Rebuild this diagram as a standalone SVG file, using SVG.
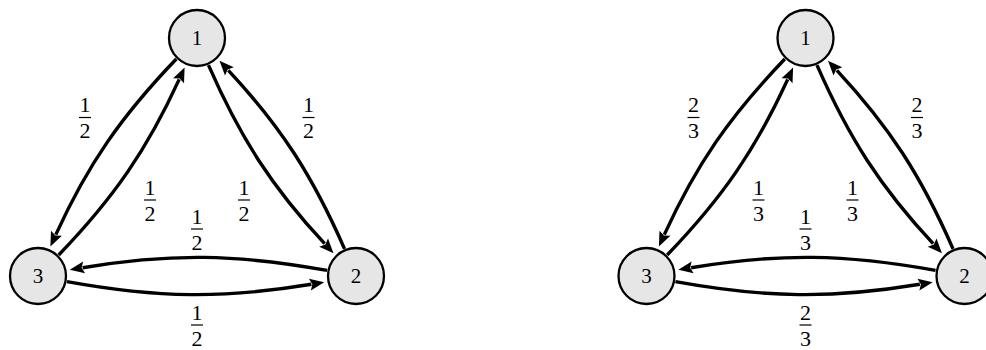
<svg xmlns="http://www.w3.org/2000/svg" width="986" height="350" viewBox="0 0 986 350">
<defs>
<style>
.node circle{fill:#e6e6e6;stroke:#000;stroke-width:2.3}
.nt{font-family:"Liberation Serif","DejaVu Serif",serif;font-size:21px;text-anchor:middle;fill:#000}
.edge{fill:none;stroke:#000;stroke-width:3.4;marker-end:url(#arr)}
.ft{font-family:"Liberation Serif","DejaVu Serif",serif;font-size:22px;text-anchor:middle;fill:#000}
.fb{stroke:#000;stroke-width:1.2}
</style>
<marker id="arr" markerUnits="userSpaceOnUse" viewBox="-3 -8 18 16" markerWidth="18" markerHeight="16" refX="0" refY="0" orient="auto">
<path d="M-1.5,-6 L13,0 L-1.5,6 L1,0 Z" fill="#000"/>
</marker>
</defs>

<g id="graph-left">
<g id="edges-left">
<path class="edge" transform="translate(197,38) rotate(123.75)" d="M28.97,5.54 C107.76,19.56 165.73,20.44 241.94,8.14"/>
<path class="edge" transform="translate(38,276) rotate(-56.25)" d="M28.97,5.54 C107.76,19.56 165.73,20.44 241.94,8.14"/>
<path class="edge" transform="translate(197,38) rotate(56.25)" d="M28.97,5.54 C107.76,19.56 165.73,20.44 241.94,8.14"/>
<path class="edge" transform="translate(356,276) rotate(-123.75)" d="M28.97,5.54 C107.76,19.56 165.73,20.44 241.94,8.14"/>
<path class="edge" transform="translate(356,276) rotate(180)" d="M28.97,5.58 C119.73,22.01 185.39,22.91 273.38,8.30"/>
<path class="edge" transform="translate(38,276)" d="M28.97,5.58 C119.73,22.01 185.39,22.91 273.38,8.30"/>
</g>
<g id="labels-left">
<g><text class="ft" x="85" y="112">1</text><line class="fb" x1="79" y1="117.5" x2="91" y2="117.5"/><text class="ft" x="85" y="138">2</text></g>
<g><text class="ft" x="150" y="194.5">1</text><line class="fb" x1="144" y1="200" x2="156" y2="200"/><text class="ft" x="150" y="220.5">2</text></g>
<g><text class="ft" x="244" y="194.5">1</text><line class="fb" x1="238" y1="200" x2="250" y2="200"/><text class="ft" x="244" y="220.5">2</text></g>
<g><text class="ft" x="308.5" y="112">1</text><line class="fb" x1="302.5" y1="117.5" x2="314.5" y2="117.5"/><text class="ft" x="308.5" y="138">2</text></g>
<g><text class="ft" x="197" y="223.5">1</text><line class="fb" x1="191" y1="229" x2="203" y2="229"/><text class="ft" x="197" y="249.5">2</text></g>
<g><text class="ft" x="197" y="319.5">1</text><line class="fb" x1="191" y1="325" x2="203" y2="325"/><text class="ft" x="197" y="345.5">2</text></g>
</g>
<g id="L1" class="node"><circle cx="197" cy="38" r="28"/><text class="nt" x="197" y="45">1</text></g>
<g id="L2" class="node"><circle cx="356" cy="276" r="28"/><text class="nt" x="356" y="283">2</text></g>
<g id="L3" class="node"><circle cx="38" cy="276" r="28"/><text class="nt" x="38" y="283">3</text></g>
</g>

<g id="graph-right" transform="translate(608.5,0)">
<g id="edges-right">
<path class="edge" transform="translate(197,38) rotate(123.75)" d="M28.97,5.54 C107.76,19.56 165.73,20.44 241.94,8.14"/>
<path class="edge" transform="translate(38,276) rotate(-56.25)" d="M28.97,5.54 C107.76,19.56 165.73,20.44 241.94,8.14"/>
<path class="edge" transform="translate(197,38) rotate(56.25)" d="M28.97,5.54 C107.76,19.56 165.73,20.44 241.94,8.14"/>
<path class="edge" transform="translate(356,276) rotate(-123.75)" d="M28.97,5.54 C107.76,19.56 165.73,20.44 241.94,8.14"/>
<path class="edge" transform="translate(356,276) rotate(180)" d="M28.97,5.58 C119.73,22.01 185.39,22.91 273.38,8.30"/>
<path class="edge" transform="translate(38,276)" d="M28.97,5.58 C119.73,22.01 185.39,22.91 273.38,8.30"/>
</g>
<g id="labels-right">
<g><text class="ft" x="85" y="112">2</text><line class="fb" x1="79" y1="117.5" x2="91" y2="117.5"/><text class="ft" x="85" y="138">3</text></g>
<g><text class="ft" x="150" y="194.5">1</text><line class="fb" x1="144" y1="200" x2="156" y2="200"/><text class="ft" x="150" y="220.5">3</text></g>
<g><text class="ft" x="244" y="194.5">1</text><line class="fb" x1="238" y1="200" x2="250" y2="200"/><text class="ft" x="244" y="220.5">3</text></g>
<g><text class="ft" x="308.5" y="112">2</text><line class="fb" x1="302.5" y1="117.5" x2="314.5" y2="117.5"/><text class="ft" x="308.5" y="138">3</text></g>
<g><text class="ft" x="197" y="223.5">1</text><line class="fb" x1="191" y1="229" x2="203" y2="229"/><text class="ft" x="197" y="249.5">3</text></g>
<g><text class="ft" x="197" y="319.5">2</text><line class="fb" x1="191" y1="325" x2="203" y2="325"/><text class="ft" x="197" y="345.5">3</text></g>
</g>
<g id="R1" class="node"><circle cx="197" cy="38" r="28"/><text class="nt" x="197" y="45">1</text></g>
<g id="R2" class="node"><circle cx="356" cy="276" r="28"/><text class="nt" x="356" y="283">2</text></g>
<g id="R3" class="node"><circle cx="38" cy="276" r="28"/><text class="nt" x="38" y="283">3</text></g>
</g>
</svg>
